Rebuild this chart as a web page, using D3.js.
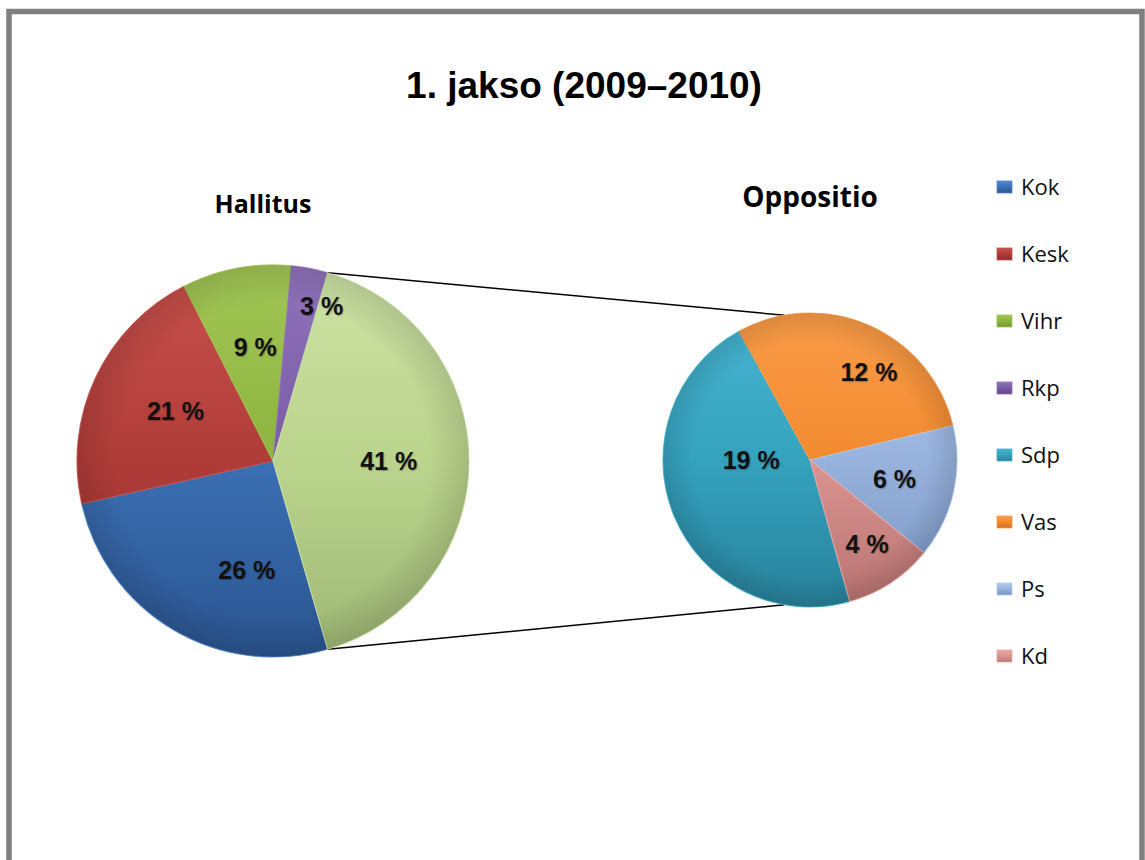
<!DOCTYPE html>
<html><head><meta charset="utf-8">
<script src="https://cdn.jsdelivr.net/npm/d3@7"></script>
<style>
body{margin:0;background:#fff}
.pct{font-family:"Liberation Sans",Arial,sans-serif;font-weight:bold;font-size:25px;fill:#111;text-shadow:1px 1px 1px rgba(0,0,0,0.25)}
</style>
</head><body><svg id="c" width="1145" height="860"></svg>
<script>
// ---- data ----
const chartTitle = "1. jakso (2009–2010)";
const groupTitles = ["Hallitus", "Oppositio"];
const mainCategories = ["Kok", "Kesk", "Vihr", "Rkp"];
const mainValues = [26, 21, 9, 3];
const otherLabel = "Other";
const otherValue = 41;
const secondCategories = ["Sdp", "Vas", "Ps", "Kd"];
const secondValues = [19, 12, 6, 4];
const legendLabels = ["Kok", "Kesk", "Vihr", "Rkp", "Sdp", "Vas", "Ps", "Kd"];

// ---- styles ----
const palette = {
  Kok:  ["#5089D0", "#3B6FB3", "#2A5590"],
  Kesk: ["#C9524D", "#B03C38", "#8F2D2A"],
  Vihr: ["#A2C656", "#8DB43E", "#76982F"],
  Rkp:  ["#9073BC", "#7A5BA6", "#5E4384"],
  Other:["#CCE2A4", "#BBD48D", "#9DB674"],
  Sdp:  ["#47B4D1", "#35A2BE", "#27819A"],
  Vas:  ["#FA9C48", "#F28A2F", "#D36F1E"],
  Ps:   ["#B2CBEF", "#97B2DC", "#7793C1"],
  Kd:   ["#EBA9A6", "#D99390", "#B97371"]
};
const c1 = {x: 273, y: 461, r: 196};
const c2 = {x: 810, y: 460, r: 147};
const secondStartDeg = 164.3;
const labelAdjust = {Kok:[-17,0.57], Kesk:[2,0.56], Vihr:[2,0.59], Rkp:[6.6,0.83], Other:[0,0.59],
                     Sdp:[22,0.40], Vas:[10,0.72], Ps:[0,0.59], Kd:[-1,0.69]};

const svg = d3.select("#c");
const defs = svg.append("defs");
const rad = d => d * Math.PI / 180;

// border
svg.append("rect").attr("x", 9).attr("y", 11.5).attr("width", 1133).attr("height", 900)
  .attr("fill", "#fff").attr("stroke", "#808080").attr("stroke-width", 5.5);

// title
svg.append("text").attr("x", 584).attr("y", 98).attr("text-anchor", "middle")
  .style("font-family", '"Liberation Sans",Arial,sans-serif').style("font-weight", "bold")
  .style("font-size", "37px").attr("fill", "#000").text(chartTitle);

// gradients
function makeGrad(id, cols, pie) {
  const g = defs.append("linearGradient").attr("id", id);
  if (pie) g.attr("gradientUnits", "userSpaceOnUse").attr("x1", 0).attr("x2", 0)
            .attr("y1", -pie.r).attr("y2", pie.r);
  else g.attr("x1", 0).attr("x2", 0).attr("y1", 0).attr("y2", 1);
  g.append("stop").attr("offset", "0%").attr("stop-color", cols[0]);
  g.append("stop").attr("offset", "50%").attr("stop-color", cols[1]);
  g.append("stop").attr("offset", "100%").attr("stop-color", cols[2]);
}
Object.keys(palette).forEach(k => {
  const pie = secondCategories.includes(k) ? c2 : c1;
  makeGrad("g-" + k, palette[k], pie);
  makeGrad("l-" + k, palette[k], null);
});
const rg = defs.append("radialGradient").attr("id", "edge");
rg.append("stop").attr("offset", "80%").attr("stop-color", "#000").attr("stop-opacity", 0);
rg.append("stop").attr("offset", "100%").attr("stop-color", "#000").attr("stop-opacity", 0.12);

// ---- main pie ----
const mainData = mainCategories.map((k, i) => ({k, v: mainValues[i]}))
  .concat([{k: otherLabel, v: otherValue}]);
const total1 = d3.sum(mainData, d => d.v);
const otherAng = otherValue / total1 * 2 * Math.PI;
const start1 = Math.PI / 2 + otherAng / 2;
const pie1 = d3.pie().sort(null).value(d => d.v).startAngle(start1).endAngle(start1 + 2 * Math.PI);
const arcs1 = pie1(mainData);

// ---- second pie ----
const secondData = secondCategories.map((k, i) => ({k, v: secondValues[i]}));
const s2 = rad(secondStartDeg);
const pie2 = d3.pie().sort(null).value(d => d.v).startAngle(s2).endAngle(s2 + 2 * Math.PI);
const arcs2 = pie2(secondData);

// connector lines
const pt = (c, a, r) => [c.x + r * Math.sin(a), c.y - r * Math.cos(a)];
const otherArc = arcs1[arcs1.length - 1];
const lt = pt(c1, otherArc.startAngle, c1.r), lb = pt(c1, otherArc.endAngle, c1.r);
const rt = pt(c2, rad(-10), c2.r), rb = pt(c2, rad(190), c2.r);
[[lt, rt], [lb, rb]].forEach(([a, b]) => {
  svg.append("line").attr("x1", a[0]).attr("y1", a[1]).attr("x2", b[0]).attr("y2", b[1])
    .attr("stroke", "#000").attr("stroke-width", 1.5);
});

function drawPie(c, arcs) {
  const arc = d3.arc().innerRadius(0).outerRadius(c.r);
  const g = svg.append("g").attr("transform", `translate(${c.x},${c.y})`);
  g.selectAll("path.s").data(arcs).join("path").attr("class", "s")
    .attr("d", arc)
    .attr("fill", d => `url(#g-${d.data.k})`)
    .attr("stroke", d => palette[d.data.k][0]).attr("stroke-width", 1.2).attr("stroke-opacity", 0.8);
  g.append("circle").attr("r", c.r).attr("fill", "url(#edge)");
  g.selectAll("text").data(arcs).join("text").attr("class", "pct")
    .attr("text-anchor", "middle").attr("dy", "0.36em")
    .attr("x", d => { const a = labelAdjust[d.data.k]; const m = (d.startAngle + d.endAngle) / 2 + rad(a[0]); return a[1] * c.r * Math.sin(m); })
    .attr("y", d => { const a = labelAdjust[d.data.k]; const m = (d.startAngle + d.endAngle) / 2 + rad(a[0]); return -a[1] * c.r * Math.cos(m); })
    .text(d => d.data.v + " %");
}
drawPie(c1, arcs1);
drawPie(c2, arcs2);

// group titles
const titleFont = '"Open Sans","Noto Sans",sans-serif';
[[c1.x - 10, 213, groupTitles[0], 25], [c2.x, 207, groupTitles[1], 28]].forEach(([x, y, t, fs]) => {
  svg.append("text").attr("x", x).attr("y", y).attr("text-anchor", "middle")
    .style("font-family", titleFont).style("font-weight", "bold").style("font-size", fs + "px")
    .attr("fill", "#000").text(t);
});

// legend
const ly = d3.scalePoint().domain(legendLabels).range([186, 655]);
const lg = svg.append("g");
legendLabels.forEach(k => {
  lg.append("rect").attr("x", 997).attr("y", ly(k) - 5).attr("width", 15).attr("height", 12)
    .attr("fill", `url(#l-${k})`).attr("stroke", palette[k][0]).attr("stroke-width", 0.8);
  lg.append("text").attr("x", 1021).attr("y", ly(k) + 1).attr("dy", "0.35em")
    .style("font-family", titleFont).style("font-size", "22px").attr("fill", "#111").text(k);
});
</script>
</body></html>
